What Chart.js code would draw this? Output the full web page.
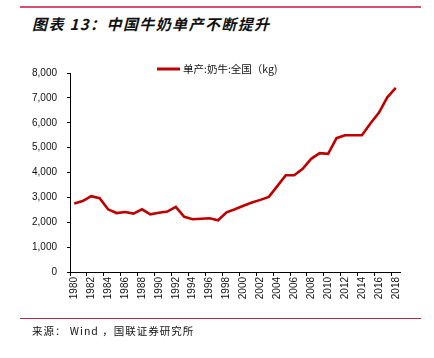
<!DOCTYPE html>
<html>
<head>
<meta charset="utf-8">
<script src="https://cdn.jsdelivr.net/npm/chart.js@4"></script>
<style>
    body { margin: 0; background: #fff; }
    #wrap { position: relative; width: 434px; height: 358px; overflow: hidden; }
    #chart { position: absolute; left: 0; top: 0; }
    .rule { position: absolute; left: 20px; width: 401px; }
    #top-rule { top: 6px; height: 2px; background: #d8506f; }
    #bottom-rule { top: 318px; height: 1px; background: #b02a44; }
    #title {
        position: absolute; left: 32px; top: 13px;
        font: italic bold 15px "Noto Sans CJK SC", sans-serif;
        letter-spacing: 1.4px; color: #111; white-space: nowrap;
    }
    #source {
        position: absolute; left: 32px; top: 323px;
        font: 10.5px "Noto Sans CJK SC", sans-serif;
        letter-spacing: 1px; color: #111; white-space: nowrap;
    }
</style>
</head>
<body>
<div id="wrap">
    <div class="rule" id="top-rule"></div>
    <div id="title">图表 13：中国牛奶单产不断提升</div>
    <canvas id="chart" width="434" height="358"></canvas>
    <div class="rule" id="bottom-rule"></div>
    <div id="source">来源： Wind ，国联证券研究所</div>
</div>
<script>
const years = [];
for (let y = 1980; y <= 2018; y++) years.push(String(y));

const seriesLabel = "单产:奶牛:全国（kg)";
const milkYield = [
    2750, 2850, 3050, 2970, 2520, 2370, 2410, 2350, 2520, 2320,
    2380, 2430, 2620, 2220, 2120, 2140, 2160, 2080, 2400, 2520,
    2660, 2790, 2900, 3020, 3450, 3890, 3890, 4150, 4550, 4780,
    4750, 5380, 5500, 5500, 5500, 5970, 6400, 7020, 7400
];
const yTicks = [0, 1000, 2000, 3000, 4000, 5000, 6000, 7000, 8000];

const lineColor = "#c00000";

// legend sits right on top of the plot, so draw it by hand
const legendPlugin = {
    id: "handLegend",
    afterDraw(chart) {
        const ctx = chart.ctx;
        const ds = chart.data.datasets[0];
        ctx.save();
        ctx.strokeStyle = ds.borderColor;
        ctx.lineWidth = 3;
        ctx.beginPath();
        ctx.moveTo(157, 69);
        ctx.lineTo(180, 69);
        ctx.stroke();
        ctx.fillStyle = "#111";
        ctx.font = '10.5px "Noto Sans CJK SC", sans-serif';
        ctx.textBaseline = "middle";
        ctx.fillText(ds.label, 183, 69);
        ctx.restore();
    }
};

new Chart(document.getElementById("chart"), {
    type: "line",
    data: {
        labels: years,
        datasets: [{
            label: seriesLabel,
            data: milkYield,
            borderColor: lineColor,
            backgroundColor: lineColor,
            borderWidth: 2.6,
            pointRadius: 0,
            tension: 0
        }]
    },
    options: {
        responsive: false,
        animation: false,
        layout: { padding: { left: 0, right: 34, top: 73, bottom: 0 } },
        plugins: {
            legend: { display: false },
            tooltip: { enabled: false }
        },
        scales: {
            x: {
                type: "category",
                offset: true,
                afterFit: scale => { scale.height = 86; },
                border: { display: true, color: "#000", width: 1 },
                grid: {
                    offset: true,
                    drawOnChartArea: false,
                    drawTicks: true,
                    tickLength: 4,
                    tickColor: ctx => (ctx.index % 2 === 0 ? "#000" : "rgba(0,0,0,0)")
                },
                ticks: {
                    autoSkip: false,
                    minRotation: 90,
                    maxRotation: 90,
                    padding: 1,
                    color: "#111",
                    font: { family: "Liberation Sans, Arial", size: 10 },
                    callback: function (value, index) {
                        return index % 2 === 0 ? this.getLabelForValue(value) : "";
                    }
                }
            },
            y: {
                min: 0,
                max: 8000,
                afterFit: scale => { scale.width = 70; },
                afterBuildTicks: scale => {
                    scale.ticks = yTicks.map(v => ({ value: v }));
                },
                border: { display: true, color: "#000", width: 1 },
                grid: {
                    drawOnChartArea: false,
                    tickLength: 3,
                    tickColor: "#000"
                },
                ticks: {
                    padding: 10,
                    color: "#111",
                    font: { family: "Liberation Sans, Arial", size: 10 },
                    callback: v => v.toLocaleString("en-US")
                }
            }
        }
    },
    plugins: [legendPlugin]
});
</script>
</body>
</html>
